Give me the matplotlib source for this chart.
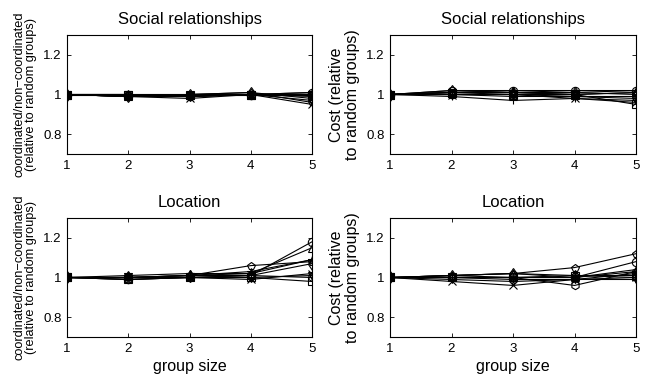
import matplotlib
matplotlib.use("Agg")
import matplotlib.pyplot as plt

plt.rcParams['font.family'] = ['Liberation Sans', 'DejaVu Sans']

group_size = [1, 2, 3, 4, 5]
markers = ['o', 'x', '+', '*', 's', 'd', 'v', '^', 'p', 'h']

# relative values per group size, one row per series
social_coord = [
    [1.00, 0.99, 0.99, 1.00, 1.01],
    [1.00, 0.99, 0.98, 1.00, 0.95],
    [1.00, 1.00, 0.99, 1.00, 0.97],
    [1.00, 0.99, 1.00, 1.00, 0.99],
    [1.00, 1.00, 1.00, 1.00, 1.00],
    [1.00, 0.99, 1.00, 1.01, 0.98],
    [1.00, 1.00, 0.99, 1.00, 1.00],
    [1.00, 0.99, 1.00, 1.00, 1.01],
    [1.00, 1.00, 1.00, 1.01, 0.96],
    [1.00, 0.99, 0.99, 1.00, 1.00],
]
social_cost = [
    [1.00, 1.02, 1.02, 1.02, 1.02],
    [1.00, 1.00, 1.00, 0.98, 0.96],
    [1.00, 0.99, 0.97, 0.98, 0.97],
    [1.00, 1.01, 1.01, 1.00, 1.01],
    [1.00, 1.01, 1.00, 1.00, 0.95],
    [1.00, 1.02, 1.01, 1.01, 1.00],
    [1.00, 1.00, 1.00, 0.99, 0.99],
    [1.00, 1.01, 1.02, 1.01, 1.02],
    [1.00, 1.00, 0.99, 0.99, 0.98],
    [1.00, 1.01, 1.01, 1.00, 1.01],
]
location_coord = [
    [1.00, 0.99, 1.00, 1.01, 1.18],
    [1.00, 1.00, 1.00, 0.99, 1.02],
    [1.00, 1.00, 1.01, 1.02, 1.09],
    [1.00, 1.00, 1.01, 1.03, 1.09],
    [1.00, 0.99, 1.00, 1.00, 0.98],
    [1.00, 1.00, 1.01, 1.01, 1.07],
    [1.00, 1.00, 1.00, 1.00, 1.01],
    [1.00, 1.01, 1.02, 1.02, 1.15],
    [1.00, 1.00, 1.01, 1.06, 1.08],
    [1.00, 0.99, 1.00, 1.01, 1.00],
]
location_cost = [
    [1.00, 1.00, 1.00, 1.00, 1.08],
    [1.00, 0.98, 0.96, 0.99, 1.00],
    [1.00, 1.00, 0.99, 0.99, 1.02],
    [1.00, 1.01, 1.00, 1.00, 1.03],
    [1.00, 1.00, 1.00, 1.01, 1.01],
    [1.00, 1.01, 1.02, 1.01, 1.00],
    [1.00, 0.99, 0.98, 0.99, 0.99],
    [1.00, 1.01, 1.02, 1.00, 1.04],
    [1.00, 1.01, 1.02, 1.05, 1.12],
    [1.00, 1.00, 1.00, 0.96, 1.03],
]

coord_label = "coordinated/non\u2212coordinated\n(relative to random groups)"
cost_label = "Cost (relative\nto random groups)"

panels = [
    (social_coord, "Social relationships", coord_label, 9.2, 1.0),
    (social_cost, "Social relationships", cost_label, 11.5, 1.1),
    (location_coord, "Location", coord_label, 9.2, 1.0),
    (location_cost, "Location", cost_label, 11.5, 1.1),
]

fig = plt.figure(figsize=(6.51, 3.75), dpi=100)
W, H = 651.0, 375.0
boxes = [(67, 35, 312, 154), (390, 35, 636, 154),
         (67, 218, 312, 337), (390, 218, 636, 337)]

for i, (data, title, ylab, ylsize, lsp) in enumerate(panels):
    x0, y0, x1, y1 = boxes[i]
    ax = fig.add_axes([x0 / W, 1 - y1 / H, (x1 - x0) / W, (y1 - y0) / H])
    for row, m in zip(data, markers):
        ax.plot(group_size, row, color='k', lw=0.8, marker=m, ms=6,
                mfc='none', mec='k', mew=0.8)
    ax.set_xlim(1, 5)
    ax.set_ylim(0.7, 1.3)
    ax.set_xticks(group_size)
    ax.set_yticks([0.8, 1.0, 1.2])
    ax.set_yticklabels(['0.8', '1', '1.2'])
    ax.tick_params(direction='in', top=True, right=True, labelsize=9.5,
                   length=3, width=0.6, pad=4)
    for s in ax.spines.values():
        s.set_linewidth(0.8)
    ax.set_title(title, fontsize=12, pad=8)
    ax.set_ylabel(ylab, fontsize=ylsize, labelpad=4, linespacing=lsp)
    if i >= 2:
        ax.set_xlabel("group size", fontsize=11.5, labelpad=3)

fig.savefig("out.png", dpi=100)
